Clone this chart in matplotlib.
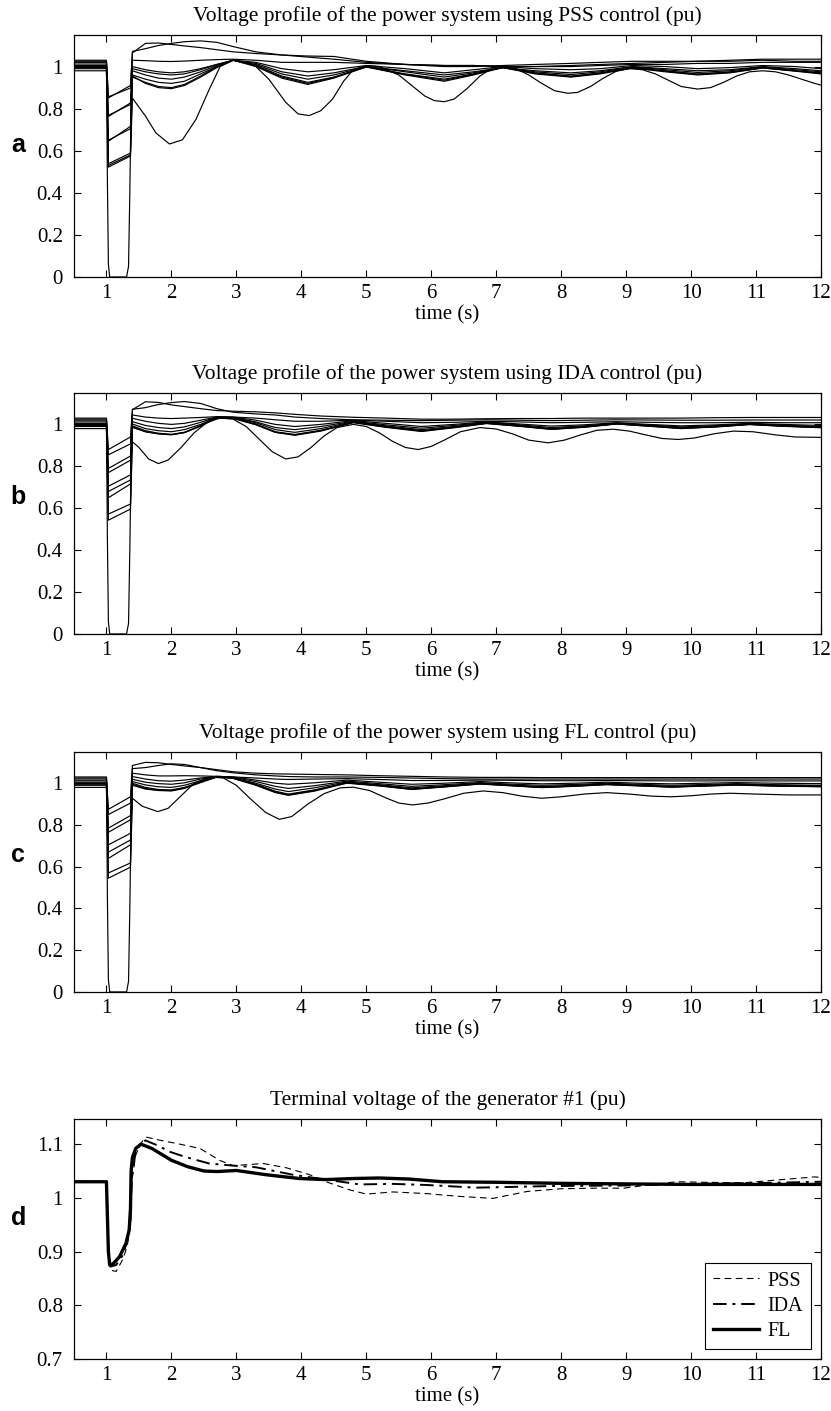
import matplotlib.pyplot as plt
import numpy as np

plt.rcParams['font.family'] = ['Liberation Serif', 'DejaVu Serif']

titles = ["Voltage profile of the power system using PSS control (pu)",
          "Voltage profile of the power system using IDA control (pu)",
          "Voltage profile of the power system using FL control (pu)",
          "Terminal voltage of the generator #1 (pu)"]
panel_letters = ["a", "b", "c", "d"]

# bus voltages before the fault (same for the three controllers)
pre_fault = [1.03, 1.025, 1.02, 1.012, 1.005, 1.0, 0.995, 0.99, 0.985, 0.98]
t_start = 0.5
t_fault = 1.0
t_settled = 1.03
t_clear = 1.37

# faulted bus: collapses to zero during the fault
faulted_t = [0.5, 1.0, 1.015, 1.03, 1.05, 1.31, 1.34, 1.36, 1.38]
faulted_v = [1.0, 1.0, 0.45, 0.06, 0.0, 0.0, 0.05, 0.4, 0.85]

# ---------------- PSS ----------------
pss_fault_start = [0.851, 0.856, 0.763, 0.768, 0.645, 0.65, 0.538, 0.53]
pss_fault_end = [0.91, 0.898, 0.827, 0.82, 0.716, 0.705, 0.589, 0.58]
pss_t = [1.4, 1.6, 1.8, 2.0, 2.2, 2.45, 2.7, 2.95, 3.3, 3.7, 4.1, 4.5, 5.0, 5.6,
         6.2, 6.65, 7.1, 7.6, 8.15, 8.6, 9.1, 9.6, 10.1, 10.6, 11.1, 11.6, 12.0]
pss_post = [
    [1.065, 1.11, 1.112, 1.105, 1.098, 1.09, 1.08, 1.07, 1.062, 1.055, 1.05, 1.048, 1.025, 1.01,
     1.005, 1.005, 1.0, 1.0, 1.005, 1.01, 1.015, 1.02, 1.025, 1.03, 1.035, 1.035, 1.035],
    [1.072, 1.085, 1.1, 1.11, 1.118, 1.122, 1.115, 1.095, 1.07, 1.055, 1.045, 1.035, 1.02, 1.01,
     1.0, 1.0, 1.005, 1.01, 1.015, 1.02, 1.025, 1.025, 1.025, 1.025, 1.03, 1.025, 1.025],
    [1.03, 1.028, 1.025, 1.024, 1.026, 1.03, 1.033, 1.035, 1.03, 1.02, 1.02, 1.02, 1.015, 1.01,
     1.005, 1.005, 1.0, 1.0, 1.0, 1.005, 1.01, 1.01, 1.015, 1.015, 1.02, 1.02, 1.02],
    [1.0, 0.985, 0.975, 0.97, 0.975, 0.99, 1.01, 1.03, 1.02, 0.99, 0.975, 0.985, 1.005, 0.99,
     0.97, 0.985, 1.0, 0.99, 0.985, 0.99, 1.005, 1.0, 0.99, 0.995, 1.005, 1.0, 0.99],
    [0.99, 0.975, 0.965, 0.96, 0.965, 0.985, 1.01, 1.03, 1.015, 0.975, 0.955, 0.97, 1.0, 0.98,
     0.96, 0.975, 0.995, 0.98, 0.97, 0.98, 1.0, 0.99, 0.98, 0.985, 1.0, 0.99, 0.98],
    [0.98, 0.96, 0.945, 0.94, 0.95, 0.975, 1.005, 1.03, 1.01, 0.965, 0.94, 0.96, 1.0, 0.975,
     0.95, 0.97, 0.995, 0.975, 0.962, 0.975, 0.998, 0.985, 0.972, 0.98, 0.998, 0.985, 0.975],
    [0.96, 0.94, 0.925, 0.92, 0.93, 0.965, 1.0, 1.03, 1.005, 0.955, 0.925, 0.95, 0.998, 0.965,
     0.94, 0.965, 0.995, 0.97, 0.955, 0.97, 0.995, 0.98, 0.965, 0.975, 0.995, 0.98, 0.97],
    [0.955, 0.92, 0.9, 0.895, 0.91, 0.95, 0.995, 1.03, 1.0, 0.945, 0.915, 0.945, 0.998, 0.96,
     0.93, 0.96, 0.995, 0.965, 0.95, 0.965, 0.993, 0.975, 0.96, 0.97, 0.993, 0.978, 0.965],
]
pss_faulted_post = [0.95, 0.925, 0.905, 0.9, 0.915, 0.955, 1.0, 1.03, 1.005, 0.95, 0.92, 0.948, 1.0, 0.963,
                    0.935, 0.963, 0.996, 0.968, 0.952, 0.968, 0.994, 0.978, 0.963, 0.972, 0.994, 0.98, 0.968]
pss_deep_fault = [0.522, 0.575]
pss_deep_t = [1.4, 1.6, 1.76, 1.97, 2.17, 2.38, 2.58, 2.75, 2.95, 3.15, 3.3, 3.5, 3.76, 3.95,
              4.12, 4.3, 4.48, 4.65, 4.8, 5.0, 5.2, 5.5, 5.7, 5.9, 6.05, 6.2, 6.35, 6.55,
              6.75, 6.95, 7.1, 7.3, 7.5, 7.7, 7.9, 8.1, 8.25, 8.45, 8.65, 8.85, 9.05, 9.25,
              9.45, 9.65, 9.85, 10.1, 10.3, 10.5, 10.7, 10.9, 11.1, 11.3, 11.5, 11.7, 11.9, 12.0]
pss_deep_v = [0.85, 0.765, 0.685, 0.632, 0.652, 0.75, 0.89, 1.0, 1.03, 1.02, 1.0, 0.94, 0.83, 0.775,
              0.767, 0.79, 0.845, 0.93, 0.985, 1.005, 1.0, 0.96, 0.91, 0.86, 0.838, 0.833, 0.845, 0.895,
              0.955, 0.995, 1.0, 0.99, 0.96, 0.92, 0.885, 0.873, 0.877, 0.905, 0.945, 0.978, 0.99, 0.985,
              0.965, 0.935, 0.905, 0.893, 0.9, 0.925, 0.955, 0.975, 0.98, 0.975, 0.96, 0.94, 0.92, 0.912]

# ---------------- IDA ----------------
ida_fault_start = [0.88, 0.855, 0.79, 0.77, 0.705, 0.68, 0.65, 0.572]
ida_fault_end = [0.94, 0.907, 0.849, 0.829, 0.759, 0.735, 0.716, 0.62]
ida_t = [1.4, 1.6, 1.8, 2.0, 2.2, 2.45, 2.7, 2.95, 3.3, 3.6, 3.9, 4.3, 4.8, 5.3,
         5.85, 6.35, 6.85, 7.35, 7.85, 8.35, 8.85, 9.35, 9.85, 10.4, 10.9, 11.4, 12.0]
ida_post = [
    [1.07, 1.108, 1.105, 1.093, 1.085, 1.075, 1.066, 1.063, 1.06, 1.055, 1.048, 1.04, 1.034, 1.03,
     1.025, 1.025, 1.027, 1.028, 1.028, 1.03, 1.03, 1.03, 1.03, 1.032, 1.033, 1.033, 1.033],
    [1.072, 1.08, 1.095, 1.104, 1.109, 1.1, 1.075, 1.058, 1.05, 1.045, 1.035, 1.028, 1.022, 1.02,
     1.018, 1.02, 1.022, 1.02, 1.018, 1.02, 1.022, 1.021, 1.02, 1.02, 1.021, 1.021, 1.021],
    [1.045, 1.035, 1.03, 1.028, 1.03, 1.033, 1.037, 1.035, 1.03, 1.022, 1.015, 1.015, 1.02, 1.015,
     1.008, 1.01, 1.015, 1.012, 1.008, 1.01, 1.013, 1.01, 1.008, 1.008, 1.01, 1.008, 1.008],
    [1.029, 1.015, 1.005, 1.0, 1.005, 1.02, 1.035, 1.035, 1.02, 1.0, 0.99, 1.0, 1.018, 1.005,
     0.99, 1.0, 1.012, 1.002, 0.992, 0.998, 1.008, 1.0, 0.993, 0.998, 1.005, 1.0, 0.995],
    [1.013, 0.995, 0.985, 0.98, 0.988, 1.01, 1.035, 1.033, 1.012, 0.985, 0.975, 0.99, 1.015, 0.998,
     0.982, 0.995, 1.01, 0.998, 0.985, 0.993, 1.006, 0.997, 0.988, 0.994, 1.003, 0.996, 0.99],
    [1.002, 0.98, 0.97, 0.965, 0.975, 1.0, 1.035, 1.032, 1.008, 0.975, 0.962, 0.98, 1.013, 0.993,
     0.975, 0.99, 1.008, 0.995, 0.98, 0.99, 1.004, 0.994, 0.984, 0.991, 1.002, 0.994, 0.988],
    [0.993, 0.97, 0.958, 0.952, 0.962, 0.995, 1.034, 1.03, 1.002, 0.965, 0.952, 0.972, 1.01, 0.99,
     0.97, 0.987, 1.006, 0.993, 0.978, 0.988, 1.003, 0.993, 0.982, 0.99, 1.001, 0.993, 0.986],
    [0.985, 0.965, 0.955, 0.952, 0.962, 0.992, 1.03, 1.028, 0.998, 0.962, 0.948, 0.968, 1.008, 0.986,
     0.966, 0.984, 1.004, 0.991, 0.976, 0.986, 1.002, 0.991, 0.98, 0.988, 0.999, 0.991, 0.984],
]
ida_faulted_post = [0.99, 0.965, 0.955, 0.95, 0.96, 0.992, 1.033, 1.03, 1.0, 0.962, 0.95, 0.97, 1.01, 0.988,
                    0.968, 0.985, 1.005, 0.992, 0.977, 0.987, 1.002, 0.992, 0.981, 0.989, 1.0, 0.992, 0.985]
ida_deep_fault = [0.543, 0.596]
ida_deep_t = [1.4, 1.5, 1.65, 1.8, 1.95, 2.15, 2.35, 2.55, 2.75, 2.95, 3.15, 3.35, 3.55, 3.76,
              3.95, 4.15, 4.35, 4.55, 4.8, 5.0, 5.2, 5.4, 5.6, 5.8, 6.0, 6.2, 6.45, 6.75,
              7.0, 7.25, 7.5, 7.8, 8.05, 8.3, 8.55, 8.8, 9.05, 9.3, 9.55, 9.8, 10.05, 10.35,
              10.65, 10.95, 11.3, 11.6, 12.0]
ida_deep_v = [0.917, 0.89, 0.835, 0.813, 0.83, 0.89, 0.96, 1.01, 1.03, 1.025, 0.99, 0.93, 0.87, 0.835,
              0.845, 0.89, 0.945, 0.985, 1.0, 0.99, 0.96, 0.92, 0.89, 0.88, 0.895, 0.925, 0.965, 0.985,
              0.978, 0.955, 0.925, 0.912, 0.925, 0.95, 0.972, 0.977, 0.968, 0.95, 0.933, 0.928, 0.935, 0.955,
              0.968, 0.965, 0.95, 0.94, 0.938]

# ---------------- FL ----------------
fl_fault_start = [0.875, 0.85, 0.785, 0.765, 0.705, 0.67, 0.64, 0.57]
fl_fault_end = [0.935, 0.905, 0.845, 0.825, 0.76, 0.728, 0.705, 0.618]
fl_t = [1.4, 1.6, 1.8, 2.0, 2.2, 2.45, 2.7, 2.95, 3.3, 3.6, 3.8, 4.2, 4.7, 5.2,
        5.7, 6.2, 6.75, 7.2, 7.7, 8.2, 8.7, 9.2, 9.7, 10.2, 10.7, 11.3, 12.0]
fl_post = [
    [1.085, 1.1, 1.098, 1.09, 1.083, 1.075, 1.065, 1.055, 1.048, 1.045, 1.044, 1.042, 1.04, 1.036,
     1.033, 1.03, 1.028, 1.028, 1.027, 1.027, 1.027, 1.027, 1.027, 1.027, 1.027, 1.027, 1.027],
    [1.07, 1.075, 1.085, 1.093, 1.09, 1.075, 1.06, 1.05, 1.04, 1.035, 1.032, 1.03, 1.03, 1.028,
     1.025, 1.022, 1.02, 1.02, 1.02, 1.02, 1.02, 1.02, 1.02, 1.02, 1.02, 1.02, 1.02],
    [1.048, 1.04, 1.035, 1.035, 1.036, 1.035, 1.033, 1.03, 1.025, 1.02, 1.018, 1.02, 1.022, 1.018,
     1.013, 1.013, 1.015, 1.014, 1.012, 1.012, 1.013, 1.012, 1.011, 1.011, 1.012, 1.011, 1.011],
    [1.032, 1.02, 1.012, 1.01, 1.015, 1.025, 1.033, 1.03, 1.015, 1.0, 0.995, 1.002, 1.015, 1.005,
     0.995, 1.0, 1.008, 1.002, 0.997, 1.0, 1.005, 1.0, 0.997, 1.0, 1.003, 1.0, 0.998],
    [1.019, 1.005, 0.998, 0.995, 1.002, 1.02, 1.032, 1.028, 1.008, 0.985, 0.975, 0.988, 1.01, 0.998,
     0.985, 0.993, 1.003, 0.996, 0.99, 0.994, 1.0, 0.995, 0.99, 0.994, 0.998, 0.993, 0.99],
    [1.008, 0.992, 0.983, 0.98, 0.99, 1.012, 1.03, 1.026, 1.0, 0.972, 0.96, 0.978, 1.006, 0.993,
     0.978, 0.988, 1.0, 0.992, 0.984, 0.99, 0.997, 0.991, 0.985, 0.99, 0.995, 0.99, 0.987],
    [1.0, 0.98, 0.97, 0.968, 0.98, 1.007, 1.03, 1.025, 0.995, 0.962, 0.948, 0.968, 1.003, 0.99,
     0.973, 0.984, 0.998, 0.99, 0.981, 0.987, 0.995, 0.989, 0.983, 0.988, 0.993, 0.988, 0.985],
    [0.995, 0.975, 0.966, 0.965, 0.977, 1.005, 1.03, 1.024, 0.993, 0.958, 0.944, 0.965, 1.002, 0.988,
     0.971, 0.983, 0.997, 0.989, 0.98, 0.986, 0.994, 0.988, 0.982, 0.987, 0.992, 0.987, 0.984],
]
fl_faulted_post = [0.99, 0.972, 0.965, 0.963, 0.975, 1.003, 1.03, 1.023, 0.99, 0.955, 0.942, 0.962, 1.0, 0.987,
                   0.97, 0.982, 0.996, 0.988, 0.979, 0.985, 0.993, 0.987, 0.981, 0.986, 0.991, 0.986, 0.983]
fl_deep_fault = [0.545, 0.598]
fl_deep_t = [1.4, 1.55, 1.79, 1.95, 2.15, 2.35, 2.6, 2.8, 3.0, 3.2, 3.45, 3.66, 3.85, 4.1,
             4.35, 4.6, 4.8, 5.05, 5.3, 5.5, 5.71, 5.95, 6.2, 6.5, 6.8, 7.1, 7.4, 7.7,
             8.0, 8.35, 8.7, 9.05, 9.4, 9.7, 10.0, 10.3, 10.6, 11.0, 11.5, 12.0]
fl_deep_v = [0.928, 0.89, 0.864, 0.88, 0.94, 1.0, 1.03, 1.025, 0.99, 0.93, 0.86, 0.827, 0.84, 0.9,
             0.95, 0.978, 0.981, 0.965, 0.93, 0.905, 0.896, 0.905, 0.925, 0.952, 0.963, 0.955, 0.938, 0.928,
             0.935, 0.948, 0.955, 0.948, 0.938, 0.935, 0.94, 0.948, 0.952, 0.948, 0.944, 0.944]

# ---------------- generator #1 terminal voltage ----------------
gen_pss_t = [0.5, 1.0, 1.03, 1.07, 1.15, 1.25, 1.32, 1.37, 1.39, 1.45, 1.55, 1.62, 1.8, 2.13,
             2.44, 2.74, 2.95, 3.2, 3.41, 3.77, 4.13, 4.38, 4.74, 5.0, 5.41, 5.92, 6.4, 6.95,
             7.48, 8.0, 8.5, 8.96, 9.33, 9.78, 10.2, 10.8, 11.4, 11.9, 12.0]
gen_pss_v = [1.03, 1.03, 0.9, 0.865, 0.863, 0.885, 0.91, 0.95, 1.03, 1.08, 1.105, 1.113, 1.108, 1.1,
             1.092, 1.07, 1.06, 1.062, 1.064, 1.056, 1.043, 1.03, 1.015, 1.007, 1.011, 1.008, 1.003, 0.999,
             1.012, 1.017, 1.018, 1.018, 1.024, 1.03, 1.029, 1.028, 1.034, 1.039, 1.038]
gen_ida_t = [0.5, 1.0, 1.03, 1.06, 1.15, 1.25, 1.32, 1.37, 1.39, 1.45, 1.52, 1.6, 1.8, 1.97,
             2.22, 2.58, 2.95, 3.3, 3.87, 4.38, 4.9, 5.41, 5.92, 6.69, 7.1, 7.85, 8.96, 10.07,
             11.2, 12.0]
gen_ida_v = [1.03, 1.03, 0.9, 0.872, 0.875, 0.893, 0.92, 0.96, 1.04, 1.085, 1.1, 1.107, 1.097, 1.086,
             1.076, 1.064, 1.06, 1.057, 1.043, 1.034, 1.025, 1.026, 1.024, 1.019, 1.02, 1.022, 1.023, 1.026,
             1.028, 1.03]
gen_fl_t = [0.5, 1.0, 1.03, 1.05, 1.1, 1.2, 1.3, 1.35, 1.37, 1.38, 1.4, 1.45, 1.53, 1.7,
            2.0, 2.25, 2.5, 2.7, 3.0, 3.46, 3.97, 4.38, 4.8, 5.2, 5.66, 6.17, 7.0, 8.0,
            9.0, 10.0, 11.0, 12.0]
gen_fl_v = [1.03, 1.03, 0.9, 0.875, 0.877, 0.89, 0.915, 0.94, 0.98, 1.05, 1.075, 1.092, 1.1, 1.092,
            1.07, 1.058, 1.05, 1.049, 1.051, 1.043, 1.036, 1.034, 1.036, 1.037, 1.035, 1.03, 1.029, 1.027,
            1.026, 1.025, 1.025, 1.025]

x_ticks = list(range(1, 13))
fig = plt.figure(figsize=(8.31, 14.11), dpi=100)

rects = [[0.089, 0.8037, 0.899, 0.1715],
         [0.089, 0.5507, 0.899, 0.1708],
         [0.089, 0.2970, 0.899, 0.1701],
         [0.089, 0.0369, 0.899, 0.1701]]
letter_y = [0.8972, 0.6478, 0.394, 0.1368]

bus_sets = [
    (pss_fault_start, pss_fault_end, pss_t, pss_post, pss_faulted_post,
     pss_deep_fault, pss_deep_t, pss_deep_v),
    (ida_fault_start, ida_fault_end, ida_t, ida_post, ida_faulted_post,
     ida_deep_fault, ida_deep_t, ida_deep_v),
    (fl_fault_start, fl_fault_end, fl_t, fl_post, fl_faulted_post,
     fl_deep_fault, fl_deep_t, fl_deep_v),
]


def style_axes(ax):
    ax.tick_params(direction='in', top=True, right=True, length=5, width=0.8, labelsize=15)
    ax.tick_params(axis='x', pad=5)
    ax.tick_params(axis='y', pad=8)
    for s in ax.spines.values():
        s.set_linewidth(0.9)
    ax.set_xlim(0.5, 12)
    ax.set_xticks(x_ticks)
    ax.set_xlabel("time (s)", fontsize=15, labelpad=2)


for k in range(3):
    ax = fig.add_axes(rects[k])
    fs, fe, tp, post, fpost, dfault, dt, dv = bus_sets[k]
    for i in range(len(post)):
        pre = pre_fault[i]
        t = [t_start, t_fault, t_settled, t_clear] + tp
        v = [pre, pre, fs[i], fe[i]] + post[i]
        ax.plot(t, v, color='black', lw=0.85)
    # faulted bus
    ax.plot(faulted_t + tp, faulted_v + fpost, color='black', lw=0.85)
    # most oscillatory bus
    pre = pre_fault[-1]
    t = [t_start, t_fault, t_settled, t_clear] + dt
    v = [pre, pre, dfault[0], dfault[1]] + dv
    ax.plot(t, v, color='black', lw=0.85)
    ax.set_ylim(0, 1.15)
    ax.set_yticks([0, 0.2, 0.4, 0.6, 0.8, 1])
    ax.set_yticklabels(["0", "0.2", "0.4", "0.6", "0.8", "1"])
    style_axes(ax)
    ax.set_title(titles[k], fontsize=15.5, pad=10)

ax = fig.add_axes(rects[3])
ax.plot(gen_pss_t, gen_pss_v, color='black', lw=0.8, linestyle=(0, (6, 4)), label="PSS")
ax.plot(gen_ida_t, gen_ida_v, color='black', lw=1.4, linestyle=(0, (7, 3, 1.5, 3)), label="IDA")
ax.plot(gen_fl_t, gen_fl_v, color='black', lw=2.4, label="FL")
ax.set_ylim(0.7, 1.147)
ax.set_yticks([0.7, 0.8, 0.9, 1.0, 1.1])
ax.set_yticklabels(["0.7", "0.8", "0.9", "1", "1.1"])
style_axes(ax)
ax.set_title(titles[3], fontsize=15.5, pad=10)
leg = ax.legend(loc='lower right', fontsize=14.5, fancybox=False, edgecolor='black',
                framealpha=1, handlelength=2.3, labelspacing=0.3, borderpad=0.4,
                handletextpad=0.4, borderaxespad=0.5)
leg.get_frame().set_linewidth(0.8)

for k in range(4):
    fig.text(0.022, letter_y[k], panel_letters[k], fontsize=18, fontweight='bold',
             family=['Liberation Sans', 'DejaVu Sans'], ha='center', va='center')

fig.savefig("out.png", dpi=100)
